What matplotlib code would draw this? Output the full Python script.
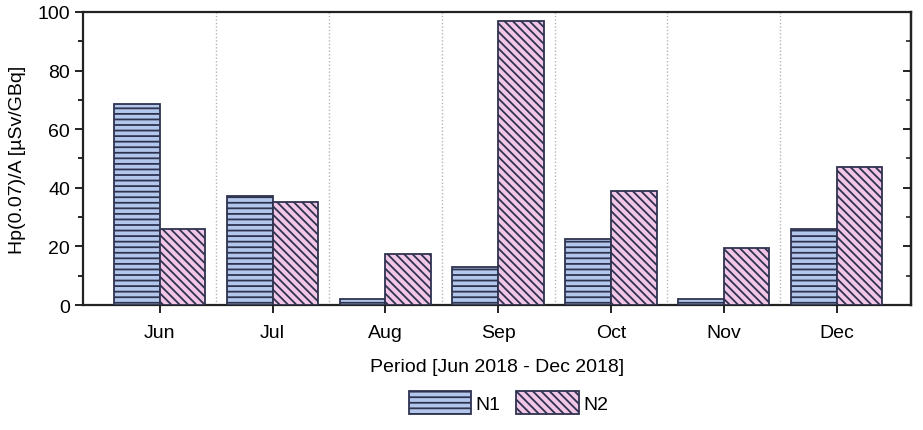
import matplotlib.pyplot as plt
import numpy as np

plt.rcParams['font.family'] = ['Liberation Sans', 'DejaVu Sans']
plt.rcParams['hatch.linewidth'] = 1.3

months = ['Jun', 'Jul', 'Aug', 'Sep', 'Oct', 'Nov', 'Dec']
n1 = [68.5, 37.2, 2.0, 12.8, 22.5, 2.0, 25.9]
n2 = [25.9, 35.2, 17.4, 97.0, 38.9, 19.6, 47.1]

fig = plt.figure(figsize=(9.23, 4.31), dpi=100)
ax = fig.add_axes([0.090, 0.290, 0.897, 0.680])

x = np.arange(len(months))
w = 0.405
edge = '#2e3350'

# horizontal hatch for N1, diagonal for N2
ax.bar(x - w / 2, n1, w, color='#b3c7ec', edgecolor=edge, hatch='---',
       linewidth=1.3, label='N1', zorder=3)
ax.bar(x + w / 2, n2, w, color='#f2c6e6', edgecolor=edge, hatch='\\\\\\\\',
       linewidth=1.3, label='N2', zorder=3)

# dotted separators between months
for s in x[:-1] + 0.5:
    ax.axvline(s, color='#b5b5b5', linestyle=(0, (1, 1.5)), linewidth=1.0, zorder=1)

ax.set_xlim(-0.68, 6.66)
ax.set_ylim(0, 100)
ax.set_xticks(x)
ax.set_xticklabels(months)
ax.set_yticks([0, 20, 40, 60, 80, 100])
ax.set_yticks(np.arange(10, 100, 20), minor=True)

for sp in ax.spines.values():
    sp.set_linewidth(1.6)
    sp.set_color('#222222')

ax.tick_params(axis='both', labelsize=14, width=1.4, length=6, color='#222222')
ax.tick_params(axis='x', pad=8)
ax.tick_params(axis='y', which='minor', width=1.2, length=3.5)
ax.tick_params(axis='x', which='minor', bottom=False)

# right axis ticks point inward, no labels
sec = ax.secondary_yaxis('right')
sec.set_yticks([0, 20, 40, 60, 80, 100])
sec.set_yticks(np.arange(10, 100, 20), minor=True)
sec.tick_params(which='both', direction='in', labelright=False, color='#222222')
sec.tick_params(which='major', length=6, width=1.4)
sec.tick_params(which='minor', length=3.5, width=1.2)
sec.spines['right'].set_linewidth(1.6)

ax.set_xlabel('Period [Jun 2018 - Dec 2018]', fontsize=14, labelpad=12)
ax.set_ylabel('Hp(0.07)/A [µSv/GBq]', fontsize=14, labelpad=8)

fig.legend(loc='center', bbox_to_anchor=(0.551, 0.064), ncol=2, frameon=False,
           fontsize=14, handlelength=3.2, handleheight=1.4, columnspacing=0.8,
           handletextpad=0.25)

fig.savefig('out.png', dpi=100)
